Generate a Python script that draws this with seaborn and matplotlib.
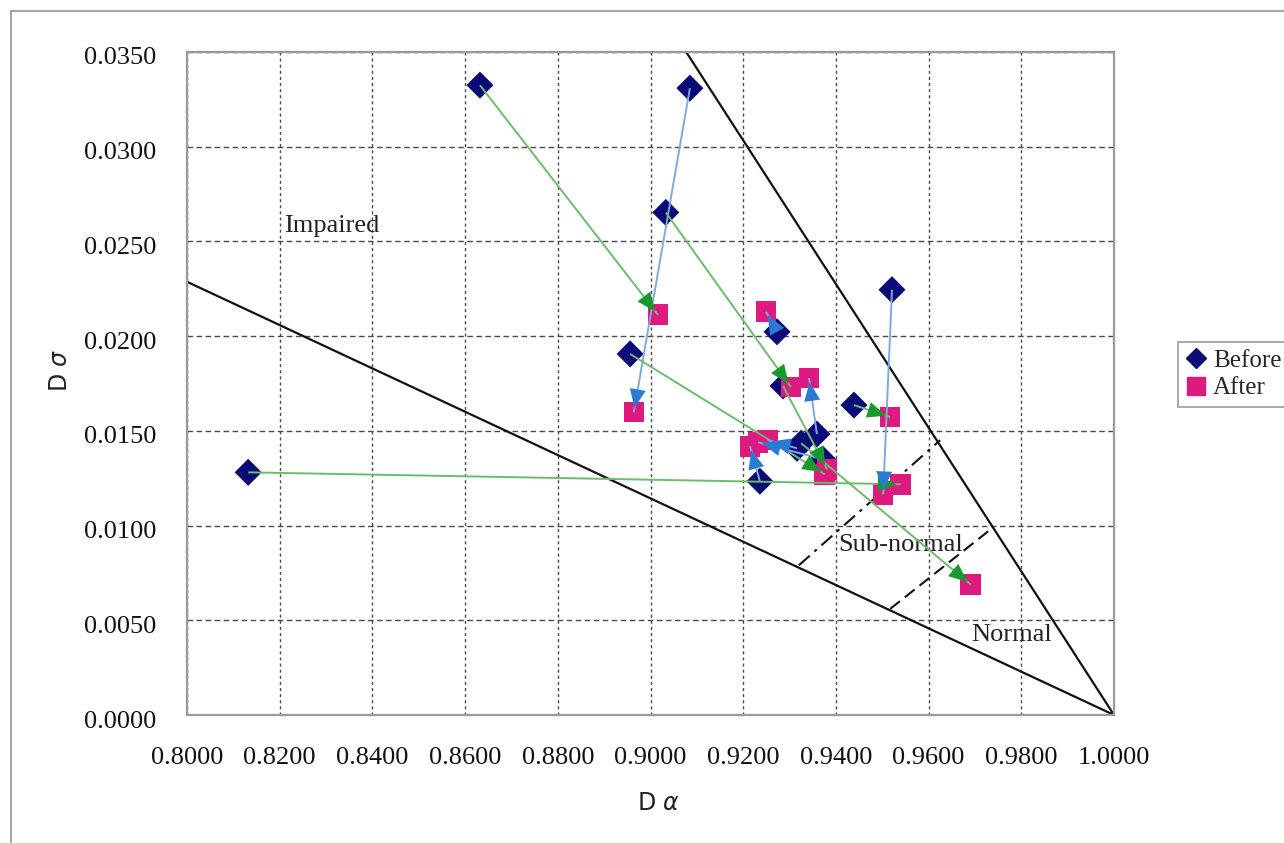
import numpy as np
import pandas as pd
import matplotlib
matplotlib.use("Agg")
import matplotlib.pyplot as plt
from matplotlib.lines import Line2D
from matplotlib.patches import Rectangle
import matplotlib.transforms as mtransforms
import seaborn as sns

# ---------------- data ----------------
before_x = [0.8632, 0.9085, 0.9033, 0.8956, 0.8132, 0.9273, 0.9521, 0.9439,
            0.9286, 0.9316, 0.9325, 0.9359, 0.9236, 0.9372]
before_y = [0.03325, 0.03309, 0.02653, 0.01906, 0.01281, 0.02023, 0.02245, 0.01636,
            0.01737, 0.01408, 0.01435, 0.01483, 0.01234, 0.01350]
after_x = [0.9016, 0.8964, 0.9303, 0.9376, 0.9540, 0.9249, 0.9502, 0.9517,
           0.9381, 0.9253, 0.9691, 0.9342, 0.9215, 0.9232]
after_y = [0.02113, 0.01599, 0.01731, 0.01271, 0.01218, 0.02129, 0.01165, 0.01573,
           0.01297, 0.01451, 0.00688, 0.01779, 0.01419, 0.01440]
arrow_group = ['G', 'B', 'G', 'G', 'G', 'B', 'B', 'G', 'G', 'B', 'G', 'B', 'B', 'B']

lower_line_x = [0.8, 1.0]
lower_line_y = [0.02287, 0.0]
upper_line_x = [0.9077, 1.0]
upper_line_y = [0.035, 0.0]
subnormal_line_x = [0.9320, 0.9625]
subnormal_line_y = [0.00790, 0.01451]
normal_line_x = [0.9517, 0.9739]
normal_line_y = [0.00560, 0.00990]

region_labels = ['Impaired', 'Sub-normal', 'Normal']
region_x = [0.8313, 0.9540, 0.9780]
region_y = [0.02579, 0.00900, 0.00424]

x_ticks = [0.80, 0.82, 0.84, 0.86, 0.88, 0.90, 0.92, 0.94, 0.96, 0.98, 1.00]
y_ticks = [0.0, 0.005, 0.010, 0.015, 0.020, 0.025, 0.030, 0.035]

# ---------------- style ----------------
sns.set_style("white")
plt.rcParams['font.family'] = ['Liberation Serif', 'DejaVu Serif']

NAVY = '#0b0b78'
MAGENTA = '#de1a80'
GREEN_LINE = '#6dbb6d'
GREEN_HEAD = '#17992c'
BLUE_LINE = '#7fa9dc'
BLUE_HEAD = '#2a7bd3'

W, H = 1284, 843
fig = plt.figure(figsize=(W / 100, H / 100), dpi=100)
ax = fig.add_axes([187 / W, 1 - 715 / H, (1114 - 187) / W, (715 - 52) / H])

# outer frame
fig.add_artist(Rectangle((11 / W, -0.2), 1.5, 1.2 - 11 / H,
                         transform=fig.transFigure, fill=False,
                         edgecolor='#a5a5a5', linewidth=1.5))

ax.set_xlim(0.8, 1.0)
ax.set_ylim(0.0, 0.035)
ax.set_xticks(x_ticks)
ax.set_yticks(y_ticks)
ax.set_xticklabels([f"{v:.4f}" for v in x_ticks])
ax.set_yticklabels([f"{v:.4f}" for v in y_ticks])
ax.tick_params(axis='both', length=0, labelsize=19, colors='#111111')
ax.tick_params(axis='x', pad=23)
ax.tick_params(axis='y', pad=22)
# shift y tick labels slightly down as in reference
offset = mtransforms.ScaledTranslation(0, -4 / 100, fig.dpi_scale_trans)
for lab in ax.get_yticklabels():
    lab.set_transform(lab.get_transform() + offset)

for s in ax.spines.values():
    s.set_color('#9a9a9a')
    s.set_linewidth(1.6)

ax.set_axisbelow(True)
ax.xaxis.grid(True, color='#4a4a4a', linestyle=(0, (2.2, 2.2)), linewidth=1.0)
ax.yaxis.grid(True, color='#4a4a4a', linestyle=(0, (4, 2.5)), linewidth=1.0)

# region boundary lines
ax.plot(lower_line_x, lower_line_y, color='#111111', lw=1.6, zorder=2)
ax.plot(upper_line_x, upper_line_y, color='#111111', lw=1.6, zorder=2)
ax.plot(subnormal_line_x, subnormal_line_y, color='#111111', lw=1.5,
        linestyle=(0, (7, 3, 1.5, 3)), zorder=2)
ax.plot(normal_line_x, normal_line_y, color='#111111', lw=1.5,
        linestyle=(0, (6, 3)), zorder=2)

for t, x, y in zip(region_labels, region_x, region_y):
    ax.text(x, y, t, ha='center', va='center', fontsize=19, color='#222222', zorder=2)

# markers
sns.scatterplot(x=before_x, y=before_y, marker='D', color=NAVY, s=190,
                edgecolor='none', linewidth=0, ax=ax, zorder=3, legend=False)
sns.scatterplot(x=after_x, y=after_y, marker='s', color=MAGENTA, s=220,
                edgecolor='none', linewidth=0, ax=ax, zorder=4, legend=False)

# arrows
for bx, by, axx, ayy, g in zip(before_x, before_y, after_x, after_y, arrow_group):
    lc = GREEN_LINE if g == 'G' else BLUE_LINE
    hc = GREEN_HEAD if g == 'G' else BLUE_HEAD
    ax.plot([bx, axx], [by, ayy], color=lc, lw=1.4, zorder=5, solid_capstyle='butt')
    ax.annotate('', xy=(axx, ayy), xytext=(bx, by),
                arrowprops=dict(arrowstyle='-|>,head_length=0.75,head_width=0.32',
                                mutation_scale=18, color=hc, lw=0,
                                shrinkA=0, shrinkB=3),
                zorder=6)

# axis labels
ax.set_xlabel('D $\\alpha$', fontsize=17, family='DejaVu Sans', color='#222222')
ax.set_ylabel('D $\\sigma$', fontsize=17, family='DejaVu Sans', color='#222222')
ax.xaxis.set_label_coords((658 - 187) / (1114 - 187), (715 - 803) / (715 - 52))
ax.yaxis.set_label_coords((60 - 187) / (1114 - 187), (715 - 370) / (715 - 52))
ax.xaxis.label.set_va('center')
ax.yaxis.label.set_va('center')

# legend
handles = [
    Line2D([], [], marker='D', color=NAVY, linestyle='', markersize=10),
    Line2D([], [], marker='s', color=MAGENTA, linestyle='', markersize=13),
]
leg = fig.legend(handles, ['Before', 'After'], loc='upper left',
                 bbox_to_anchor=(1178 / W, 1 - 342 / H),
                 bbox_transform=fig.transFigure, fontsize=18,
                 frameon=True, fancybox=False, handlelength=0.8,
                 handletextpad=0.3, borderpad=0.3, labelspacing=0.2,
                 borderaxespad=0)
leg.get_frame().set_edgecolor('#8a8a8a')
leg.get_frame().set_linewidth(1.3)

fig.savefig('out.png', dpi=100)
